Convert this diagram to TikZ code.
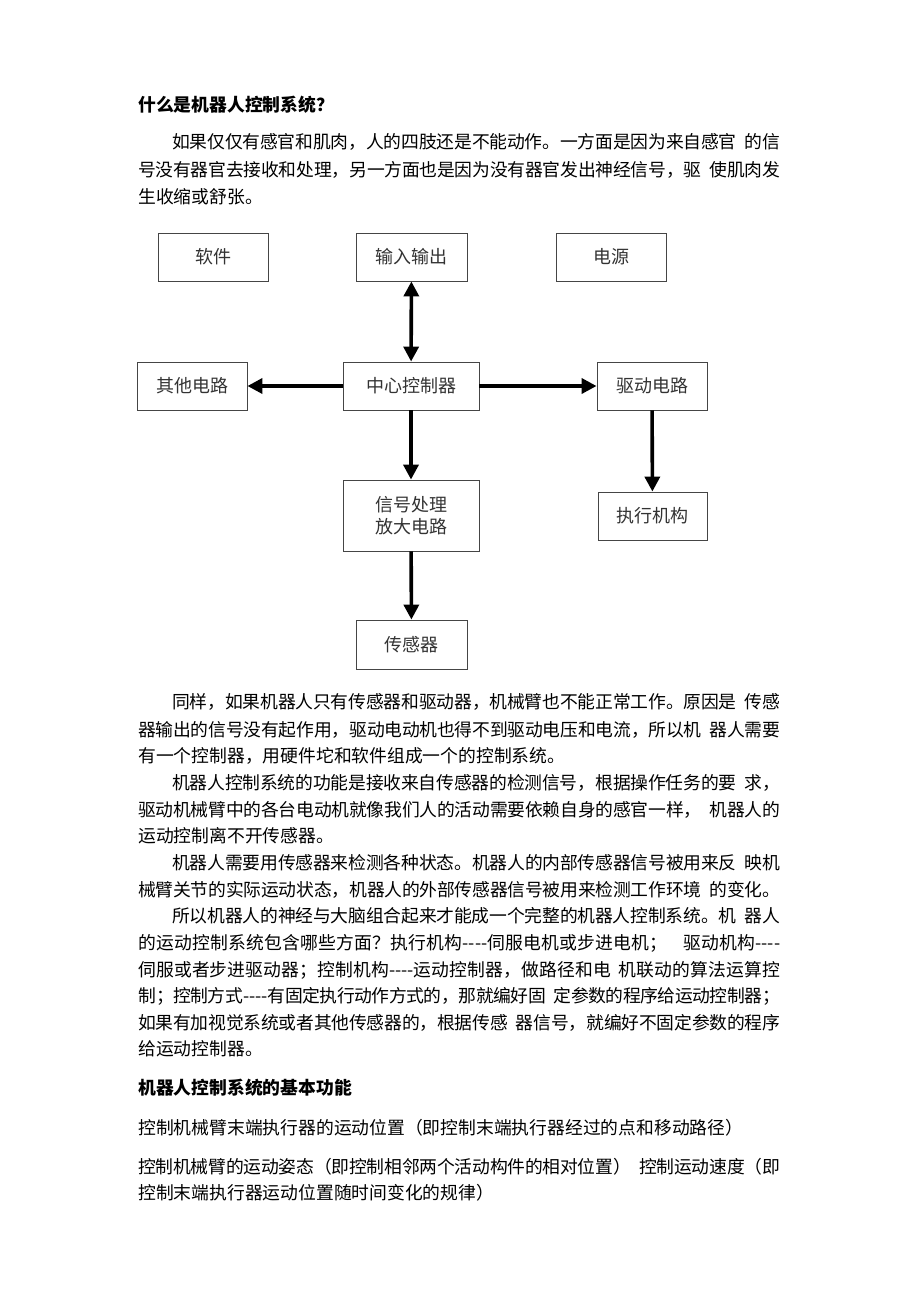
\documentclass[tikz,border=0pt]{standalone}
\usepackage{fontspec}
\newfontfamily\cjk{Noto Sans CJK SC}
\XeTeXlinebreaklocale "zh"
\XeTeXlinebreakskip=0pt plus 4pt minus 1.4pt
\usetikzlibrary{arrows.meta}
\definecolor{boxline}{HTML}{454545}
\definecolor{boxtext}{HTML}{333333}
\newcommand{\gap}{\hspace{0.45em}}
% one justified line of body text
\newcommand{\jline}[2]{\parbox[b]{#1}{\tolerance=10000\hbadness=10000\parfillskip=0pt\relax #2}}
\begin{document}
\begin{tikzpicture}[
            x=1pt, y=-1pt,
            txt/.style={anchor=base west, inner sep=0pt, font=\cjk\fontsize{17.8}{17.8}\selectfont},
            head/.style={txt, font=\cjk\bfseries\fontsize{17.8}{17.8}\selectfont},
            block/.style={draw=boxline, line width=0.9pt, minimum width=110pt, minimum height=48pt, inner sep=0pt, text=boxtext, align=center, font=\cjk\fontsize{18}{22}\selectfont},
            wide block/.style={block, minimum width=136pt},
            link/.style={line width=3.6pt, -{Triangle[width=15pt,length=15pt]}}
    ]
        \fill[white] (0,0) rectangle (920,1302);
        \useasboundingbox (0,0) rectangle (920,1302);

        % Opening text
        \node[head] (title) at (138,111.5) {什么是机器人控制系统？};
        \node[txt] (p1a) at (172,148.5) {\jline{608pt}{如果仅仅有感官和肌肉，人的四肢还是不能动作。一方面是因为来自感官\gap 的信}};
        \node[txt] (p1b) at (138,176.5) {\jline{642pt}{号没有器官去接收和处理，另一方面也是因为没有器官发出神经信号，驱\gap 使肌肉发}};
        \node[txt] (p1c) at (138,203.5) {生收缩或舒张。};

        % Diagram
        \node[block] (soft) at (213,257) {软件};
        \node[block, minimum width=111pt] (io) at (411.5,257) {输入输出};
        \node[block] (power) at (611,257) {电源};
        \node[block] (other) at (192,386) {其他电路};
        \node[wide block] (ctrl) at (411,386) {中心控制器};
        \node[block] (drive) at (652,386) {驱动电路};
        \node[wide block, minimum height=71pt] (signal) at (411,515.5) {信号处理\\放大电路};
        \node[block, minimum width=109pt] (actuator) at (652.5,516) {执行机构};
        \node[block, minimum width=111pt, minimum height=49pt] (sensor) at (411.5,644.5) {传感器};

        % Arrows
        \draw[link, {Triangle[width=15pt,length=15pt]}-{Triangle[width=15pt,length=15pt]}] (io) -- (ctrl);
        \draw[link] (ctrl) -- (other);
        \draw[link] (ctrl) -- (drive);
        \draw[link] (ctrl) -- (signal);
        \draw[link] (signal) -- (sensor);
        \draw[link] (drive) -- (actuator);

        % Closing text
        \node[txt] (p2a) at (172,708.5) {\jline{608pt}{同样，如果机器人只有传感器和驱动器，机械臂也不能正常工作。原因是\gap 传感}};
        \node[txt] (p2b) at (138,736.5) {\jline{642pt}{器输出的信号没有起作用，驱动电动机也得不到驱动电压和电流，所以机\gap 器人需要}};
        \node[txt] (p2c) at (138,762.5) {有一个控制器，用硬件坨和软件组成一个的控制系统。};
        \node[txt] (p3a) at (172,789.5) {\jline{608pt}{机器人控制系统的功能是接收来自传感器的检测信号，根据操作任务的要\gap 求，}};
        \node[txt] (p3b) at (138,816.5) {\jline{642pt}{驱动机械臂中的各台电动机就像我们人的活动需要依赖自身的感官一样，\gap 机器人的}};
        \node[txt] (p3c) at (138,842.5) {运动控制离不开传感器。};
        \node[txt] (p4a) at (172,869.5) {\jline{608pt}{机器人需要用传感器来检测各种状态。机器人的内部传感器信号被用来反\gap 映机}};
        \node[txt] (p4b) at (138,896.5) {\jline{642pt}{械臂关节的实际运动状态，机器人的外部传感器信号被用来检测工作环境\gap 的变化。}};
        \node[txt] (p5a) at (172,922.5) {\jline{608pt}{所以机器人的神经与大脑组合起来才能成一个完整的机器人控制系统。机\gap 器人}};
        \node[txt] (p5b) at (138,949.5) {\jline{642pt}{的运动控制系统包含哪些方面？执行机构----伺服电机或步进电机；\gap\gap 驱动机构----}};
        \node[txt] (p5c) at (138,976.5) {\jline{642pt}{伺服或者步进驱动器；控制机构----运动控制器，做路径和电\gap 机联动的算法运算控}};
        \node[txt] (p5d) at (138,1002.5) {\jline{642pt}{制；控制方式----有固定执行动作方式的，那就编好固\gap 定参数的程序给运动控制器；}};
        \node[txt] (p5e) at (138,1029.5) {\jline{642pt}{如果有加视觉系统或者其他传感器的，根据传感\gap 器信号，就编好不固定参数的程序}};
        \node[txt] (p5f) at (138,1055.5) {给运动控制器。};

        \node[head] (basics) at (138,1094.5) {机器人控制系统的基本功能};
        \node[txt] (f1) at (138,1134.5) {控制机械臂末端执行器的运动位置（即控制末端执行器经过的点和移动路径）};
        \node[txt] (f2a) at (138,1173.5) {\jline{642pt}{控制机械臂的运动姿态（即控制相邻两个活动构件的相对位置）\gap 控制运动速度（即}};
        \node[txt] (f2b) at (138,1199.5) {控制末端执行器运动位置随时间变化的规律）};

    \end{tikzpicture}
\end{document}
